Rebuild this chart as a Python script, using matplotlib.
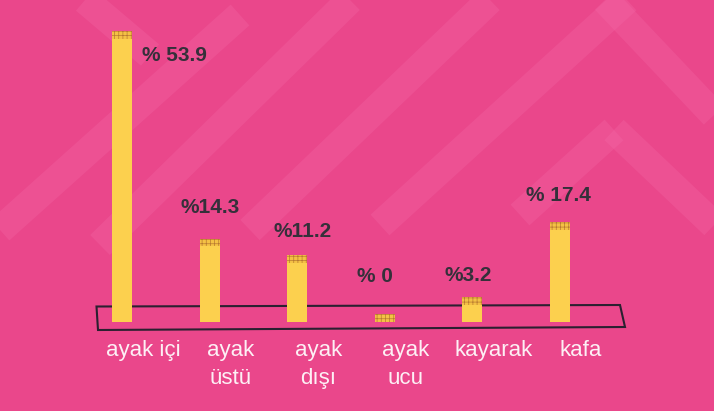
import numpy as np
import matplotlib
matplotlib.use("Agg")
import matplotlib.pyplot as plt
from matplotlib.patches import Polygon

# data
categories = ["ayak içi", "ayak\nüstü", "ayak\ndışı", "ayak\nucu", "kayarak", "kafa"]
values = [53.9, 14.3, 11.2, 0.0, 3.2, 17.4]
value_labels = ["% 53.9", "%14.3", "%11.2", "% 0", "%3.2", "% 17.4"]

# style
bg = "#ea478b"
band_col = "#f46aa8"
bar_col = "#fcd04e"
cap_col = "#f4c145"
hatch_col = "#b87a30"
text_dark = "#35303a"
label_col = "#fdf0f5"
cap_h = 1.5
bar_w = 0.23
# label offsets in pixels from top of each bar (dx, dy)
label_off = [(52, -25), (1, 31), (5, 23), (-10, 37), (-4, 21), (-2, 27)]

plt.rcParams["hatch.linewidth"] = 0.5

W, H = 714, 411
fig = plt.figure(figsize=(W / 100, H / 100), dpi=100, facecolor=bg)
ax = fig.add_axes([0, 0, 1, 1])
ax.set_facecolor(bg)
ax.axis("off")
ax.set_xlim(-122 / 87.6, (W - 122) / 87.6)
ax.set_ylim(-(H - 321.5) / 5.25, 321.5 / 5.25)


def px(x, y):
    return (x / W, 1 - y / H)


def band(p0, p1, w=28):
    p0 = np.array(p0, float)
    p1 = np.array(p1, float)
    d = p1 - p0
    n = np.array([-d[1], d[0]]) / np.hypot(*d) * w / 2
    pts = [p0 + n, p1 + n, p1 - n, p0 - n]
    ax.add_patch(Polygon([px(*p) for p in pts], closed=True, transform=ax.transAxes,
                         facecolor=band_col, edgecolor="none", alpha=0.3, zorder=0))


# faint chevron stripes of the slide background
for seg in [((0, 230), (240, 15)), ((100, 245), (350, 0)), ((250, 230), (490, 0)),
            ((380, 225), (627, 0)), ((520, 215), (614, 130)),
            ((605, 0), (714, 115)), ((614, 130), (714, 225)), ((85, 0), (150, 55))]:
    band(*seg)

# base box
box = [px(96.5, 306.5), px(620, 305), px(625, 327), px(98, 330)]
ax.add_patch(Polygon(box, closed=True, transform=ax.transAxes, fill=False,
                     edgecolor="#2b2030", linewidth=1.5, zorder=2))

x = np.arange(len(values))
ax.bar(x, values, width=bar_w, color=bar_col, linewidth=0, zorder=3)
ax.bar(x, [cap_h] * len(values), bottom=values, width=bar_w, color=cap_col,
       edgecolor=hatch_col, hatch="++++", linewidth=0, zorder=3)

for i, (v, lab) in enumerate(zip(values, value_labels)):
    ax.annotate(lab, xy=(i, v + cap_h), xytext=label_off[i], textcoords="offset pixels",
                ha="center", va="center", fontsize=15, fontweight="bold",
                color=text_dark, family="Liberation Sans", zorder=4)

for i, cat in enumerate(categories):
    ax.text(i + 0.24, -(340 - 321.5) / 5.25, cat, ha="center", va="top",
            fontsize=16, color=label_col, family="Liberation Sans",
            linespacing=1.45, zorder=4)

fig.savefig("out.png", dpi=100, facecolor=bg)
